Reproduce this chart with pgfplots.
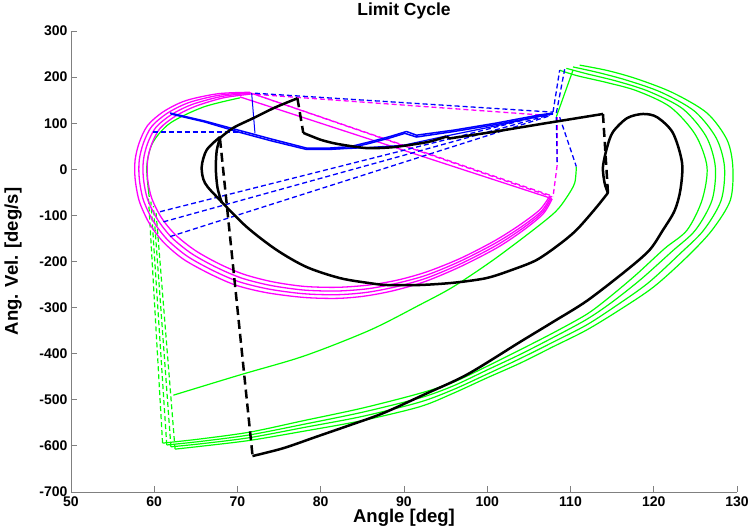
\documentclass[border=0pt]{standalone}
\usepackage{pgfplots}
\pgfplotsset{compat=1.18}
\usepackage{fontspec}
\setmainfont{Liberation Sans}
\definecolor{mgreen}{RGB}{0,255,0}
\definecolor{mmag}{RGB}{255,0,255}
\definecolor{mblue}{RGB}{0,0,255}
\begin{document}
\begin{tikzpicture}
\begin{axis}[
  scale only axis, width=666pt, height=461pt,
  xmin=50, xmax=130, ymin=-700, ymax=300,
  xtick={50,60,...,130}, ytick={-700,-600,...,300},
  xticklabels={50,60,70,80,90,100,110,120,130},
  yticklabels={-700,-600,-500,-400,-300,-200,-100,0,100,200,300},
  axis lines=left, axis line style={-, black!50, line width=0.9pt},
  tick align=inside, major tick length=6pt,
  tick style={black!50, line width=0.9pt},
  ticklabel style={font=\fontsize{14}{15}\selectfont\bfseries},
  xticklabel style={yshift=-1pt},
  title={Limit Cycle},
  title style={font=\fontsize{17.5}{19}\selectfont\bfseries, at={(axis description cs:0.5,1.030)}, anchor=center},
  xlabel={Angle [deg]},
  xlabel style={font=\fontsize{18.5}{20}\selectfont\bfseries, at={(axis description cs:0.5,-0.056)}, anchor=center},
  ylabel={Ang. Vel. [deg/s]},
  ylabel style={font=\fontsize{18.5}{20}\selectfont\bfseries, at={(axis description cs:-0.087,0.5)}, anchor=center},
  clip=false,
  every axis plot/.append style={line join=round},
]
% green
\addplot[mgreen, line width=1.2pt, smooth, tension=0.5] coordinates {(110.7,6)(110.5,-30)(109.5,-62)(108.2,-92)(105.5,-132)(100.7,-197)(95.9,-255)(91.9,-294)(85.9,-349)(78,-405)(70.3,-446)(62.3,-490)};
\addplot[mgreen, line width=1.2pt, smooth, tension=0.5] coordinates {(108.7,215)(110.8,203)(114.4,188)(118,170)(122,135)(125,75)(126.4,5)(125.8,-67)(124,-132)(121.3,-172)(117.8,-230)(114.5,-280)(111.9,-315)(107.9,-355)(103.9,-392)(99.9,-428)(95.9,-462)(91.9,-486)(85,-518)(78,-545)(71.5,-570)(65.5,-585)(61,-594)};
\addplot[mgreen, line width=1.2pt, smooth, tension=0.5] coordinates {(109.5,219)(112.0,207)(115.6,191)(119.4,169)(123.5,131)(126.3,71)(127.4,5)(127.0,-67)(125.0,-132)(122.2,-178)(118.5,-238)(115.0,-288)(111.9,-326)(107.9,-365)(103.9,-402)(99.9,-436)(95.9,-470)(91.9,-496)(85,-527)(78,-553)(71.5,-576)(65.7,-590)(61.5,-598)};
\addplot[mgreen, line width=1.2pt, smooth, tension=0.5] coordinates {(110.3,222)(113.3,210)(116.8,193)(120.9,167)(124.9,126)(127.5,68)(128.5,5)(128.1,-67)(126.0,-132)(123.1,-184)(119.3,-247)(115.4,-297)(111.9,-338)(107.9,-375)(103.9,-411)(99.9,-445)(95.9,-478)(91.9,-505)(85,-536)(78,-560)(71.5,-582)(65.8,-595)(62,-602)};
\addplot[mgreen, line width=1.2pt, smooth, tension=0.5] coordinates {(111.1,226)(114.5,214)(118,196)(122.3,166)(126.4,122)(128.8,64)(129.5,5)(129.2,-67)(127.0,-132)(124,-190)(120,-255)(115.9,-305)(111.9,-349)(107.9,-385)(103.9,-421)(99.9,-453)(95.9,-486)(91.9,-515)(85,-545)(78,-568)(71.5,-588)(66,-600)(62.5,-607)};
\addplot[mgreen, line width=1.2pt, smooth, tension=0.5] coordinates {(59.4,-60)(59.1,5)(59.8,57)(61.9,100)(65.9,135)(70.3,155)};
\addplot[mgreen, line width=1.2pt] coordinates {(108.3,114)(110.3,215)};
\addplot[mgreen, line width=1.2pt, dash pattern=on 5pt off 3pt] coordinates {(61,-594)(59.3,-60)};
\addplot[mgreen, line width=1.2pt, dash pattern=on 5pt off 3pt] coordinates {(61.5,-598)(59.6,-70)};
\addplot[mgreen, line width=1.2pt, dash pattern=on 5pt off 3pt] coordinates {(62,-602)(59.9,-80)};
\addplot[mgreen, line width=1.2pt, dash pattern=on 5pt off 3pt] coordinates {(62.5,-607)(60.2,-90)};
% magenta
\addplot[mmag, line width=1.3pt, smooth, tension=0.5] coordinates {(107.5,-58)(106.3,-88)(103.8,-122)(100.8,-156)(96.8,-193)(92.8,-222)(89.3,-240)(85.8,-251)(82,-256)(78,-254)(74.2,-244)(70.8,-228)(67.9,-206)(65,-177)(62.6,-143)(60.9,-106)(59.7,-63)(59.2,-20)(59.2,20)(59.7,55)(60.7,89)(62.6,116)(65,137)(68.3,155)(71.5,163)};
\addplot[mmag, line width=1.3pt, smooth, tension=0.5] coordinates {(107.6,-60)(106.5,-91)(104,-126)(100.9,-161)(96.8,-199)(92.8,-229)(89.2,-247)(85.7,-259)(82,-264)(78,-262)(74,-252)(70.5,-236)(67.5,-213)(64.5,-183)(62.1,-148)(60.4,-109)(59.2,-65)(58.7,-20)(58.7,20)(59.2,56)(60.2,91)(62.1,119)(64.6,141)(68.1,158)(71.5,165)};
\addplot[mmag, line width=1.3pt, smooth, tension=0.5] coordinates {(107.7,-62)(106.6,-94)(104.1,-130)(101,-166)(96.8,-205)(92.7,-236)(89,-255)(85.5,-267)(82,-272)(78,-270)(73.8,-260)(70.2,-244)(67.1,-220)(64,-189)(61.6,-153)(59.9,-113)(58.7,-67)(58.2,-20)(58.2,20)(58.7,57)(59.7,93)(61.6,122)(64.2,145)(67.9,161)(71.5,166)};
\addplot[mmag, line width=1.3pt, smooth, tension=0.5] coordinates {(107.8,-64)(106.7,-97)(104.2,-134)(101.1,-171)(96.8,-211)(92.6,-243)(88.8,-263)(85.3,-275)(82,-280)(78,-278)(73.6,-268)(69.9,-252)(66.7,-227)(63.5,-195)(61.1,-158)(59.4,-117)(58.2,-69)(57.7,-20)(57.7,20)(58.2,58)(59.2,95)(61.1,125)(63.8,149)(67.7,164)(71.5,167)};
\addplot[mmag, line width=1.3pt] coordinates {(70.3,157)(107.5,-62)};
\addplot[mmag, line width=1.3pt, dash pattern=on 5pt off 3pt] coordinates {(71.5,166)(107.5,-56)};
\addplot[mmag, line width=1.3pt, dash pattern=on 5pt off 3pt] coordinates {(72,163)(107.8,-60)};
\addplot[mmag, line width=1.3pt, dash pattern=on 5pt off 3pt] coordinates {(70.3,165)(106.3,118)};
\addplot[mmag, line width=1.3pt, dash pattern=on 5pt off 3pt] coordinates {(108.4,113)(108.4,9)(107.9,-60)};
% blue
\addplot[mblue, line width=1.5pt] coordinates {(61.9,122)(66,105)(70.3,84)(74,66)(78.3,46)(81,46)(83.5,49)(86,60)(88.3,71)(90.3,82)(91.5,74)(96,85)(101,100)(106.3,118)(107.9,122)};
\addplot[mblue, line width=1.5pt] coordinates {(62,120)(66,103)(70.3,80)(74,62)(78.3,43)(81,43)(83.5,46)(86,57)(88.3,68)(90.1,78)(91.5,70)(96,82)(101,97)(106.3,115)(107.9,120)};
\addplot[mblue, line width=1.2pt] coordinates {(78.3,44)(83.5,45)(89.9,52)(95,72)(101,94)(107.5,120)};
\addplot[mblue, line width=1pt] coordinates {(71.7,165)(72.1,78)};
\addplot[mblue, line width=1.3pt, dash pattern=on 5pt off 3pt] coordinates {(59.8,81)(70.7,81)};
\addplot[mblue, line width=1.3pt, dash pattern=on 5pt off 3pt] coordinates {(72.1,165)(107.9,124)};
\addplot[mblue, line width=1.3pt, dash pattern=on 5pt off 3pt] coordinates {(60.7,-92)(107.5,121)};
\addplot[mblue, line width=1.3pt, dash pattern=on 5pt off 3pt] coordinates {(61.1,-114)(107.5,118)};
\addplot[mblue, line width=1.3pt, dash pattern=on 5pt off 3pt] coordinates {(61.9,-146)(107.5,116)};
\addplot[mblue, line width=1.3pt, dash pattern=on 5pt off 3pt] coordinates {(107.9,124)(108.7,215)};
\addplot[mblue, line width=1.3pt, dash pattern=on 5pt off 3pt] coordinates {(108.3,122)(109.3,217)};
\addplot[mblue, line width=1.3pt, dash pattern=on 5pt off 3pt] coordinates {(108.7,113)(110.7,6)};
\addplot[mblue, line width=1.3pt, dash pattern=on 5pt off 3pt] coordinates {(108.3,113)(108.4,9)};
% black
\addplot[black, line width=2.5pt, smooth, tension=0.5] coordinates {(67.9,68)(69.5,90)(71.9,111)(74.5,134)(77.2,154)};
\addplot[black, line width=2.5pt, dash pattern=on 9pt off 5pt] coordinates {(77.2,154)(77.9,79)};
\addplot[black, line width=2.5pt, smooth, tension=0.4] coordinates {(77.9,79)(80,64)(82,55)(85.5,46)(88.7,48)(92.8,59)(95.1,71)};
\addplot[black, line width=2.5pt] coordinates {(95.1,71)(95.5,67)(100.7,81)(106.7,99)(113.9,120)};
\addplot[black, line width=2.5pt, dash pattern=on 9pt off 5pt] coordinates {(113.9,120)(114.5,-51)};
\addplot[black, line width=2.5pt, smooth, tension=0.5] coordinates {(114.5,-51)(113,-85)(110.7,-132)(108.5,-165)(105.9,-197)(103,-218)(99.9,-236)(96,-246)(91.9,-251)(88,-251)(85.9,-247)(82.3,-236)(78.3,-212)(74.7,-175)(71.1,-125)(67.9,-67)(66.1,-30)(65.7,5)(66.3,42)(67.9,70)};
\addplot[black, line width=2.5pt, smooth, tension=0.5] coordinates {(67.9,68)(67.5,40)(67.4,0)(67.6,-40)(68.1,-72)};
\addplot[black, line width=2.5pt, dash pattern=on 9pt off 5pt] coordinates {(67.9,66)(71.8,-620)};
\addplot[black, line width=2.5pt, smooth, tension=0.5] coordinates {(71.8,-622)(75.5,-605)(79.5,-580)(83.5,-555)(87.5,-529)(92.5,-488)(97.6,-445)(103.9,-375)(108,-330)(112,-285)(116.8,-218)(119.5,-175)(121.1,-132)(122.5,-90)(123.2,-45)(123.4,14)(122.3,79)(120.4,113)(118.7,120)(116.8,111)(115.1,81)(114.4,48)(113.9,5)(114.1,-30)(114.5,-51)};
\end{axis}
\pgfresetboundingbox
\path[use as bounding box] (-71pt,-40pt) rectangle (684pt,492pt);
\end{tikzpicture}
\end{document}
